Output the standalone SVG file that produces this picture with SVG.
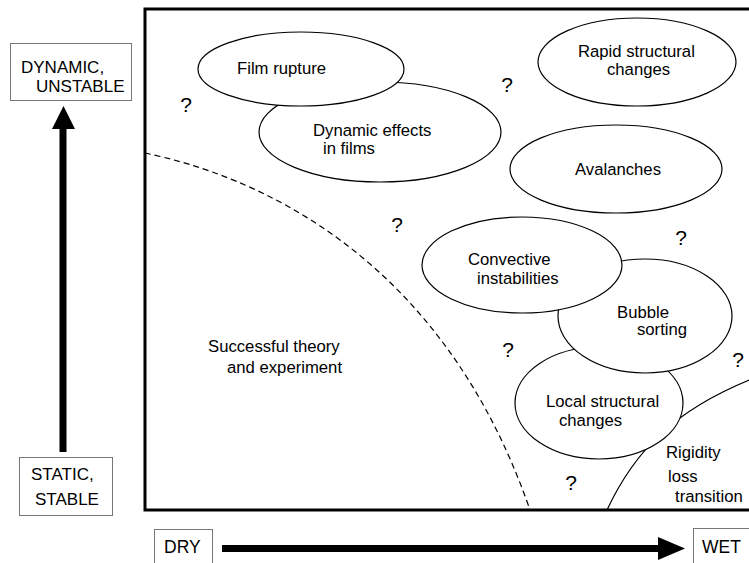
<svg xmlns="http://www.w3.org/2000/svg" width="749" height="563" viewBox="0 0 749 563">
<style>
text{font-family:"Liberation Sans",Arial,sans-serif;font-size:16.7px;fill:#000}
.q{font-size:21px}
.ax{font-size:17px}
.bx{fill:#fff;stroke:#777;stroke-width:1}
.el{fill:#fff;stroke:#000;stroke-width:1.2}
.frame{fill:none;stroke:#000;stroke-width:3}
.dash{fill:none;stroke:#000;stroke-width:1.2;stroke-dasharray:6 4}
.line{fill:none;stroke:#000;stroke-width:1.2}
</style>
<rect width="749" height="563" fill="#fff"/>
<rect class="frame" x="145" y="9" width="620" height="501"/>
<g id="boundaries">
<path class="dash" d="M145,153 C250,175 440,250 530,510"/>
<path class="line" d="M607,510 C635,450 675,410 752,379"/>
</g>
<g id="connectors">
<rect x="59.5" y="127" width="7" height="325" fill="#000"/>
<polygon points="52,129 75,129 63.5,106" fill="#000"/>
<rect x="222" y="545" width="438" height="7" fill="#000"/>
<polygon points="658,537 658,560 685,548.5" fill="#000"/>
</g>
<g id="dynamic-effects">
<ellipse class="el" cx="380" cy="132" rx="121" ry="50"/>
<text x="313" y="136">Dynamic effects</text>
<text x="323" y="154">in films</text>
</g>
<g id="film-rupture">
<ellipse class="el" cx="301" cy="69" rx="103" ry="37"/>
<text x="237" y="74">Film rupture</text>
</g>
<g id="rapid-structural">
<ellipse class="el" cx="637" cy="62" rx="99" ry="44"/>
<text x="578" y="57">Rapid structural</text>
<text x="607" y="75">changes</text>
</g>
<g id="avalanches">
<ellipse class="el" cx="616" cy="169" rx="106" ry="44"/>
<text x="618" y="175" text-anchor="middle">Avalanches</text>
</g>
<g id="local-structural">
<ellipse class="el" cx="599" cy="403" rx="84" ry="56"/>
<text x="546" y="407">Local structural</text>
<text x="559" y="426">changes</text>
</g>
<g id="bubble-sorting">
<ellipse class="el" cx="645" cy="316" rx="87" ry="57"/>
<text x="617" y="318">Bubble</text>
<text x="637" y="335">sorting</text>
</g>
<g id="convective">
<ellipse class="el" cx="522" cy="265" rx="100" ry="48"/>
<text x="468" y="265">Convective</text>
<text x="477" y="284">instabilities</text>
</g>
<g id="successful">
<text x="208" y="352">Successful theory</text>
<text x="227" y="373">and experiment</text>
</g>
<g id="rigidity">
<text x="666" y="458">Rigidity</text>
<text x="668" y="482">loss</text>
<text x="675" y="502">transition</text>
</g>
<g id="questions">
<text class="q" x="186" y="112" text-anchor="middle">?</text>
<text class="q" x="507" y="92" text-anchor="middle">?</text>
<text class="q" x="397" y="232" text-anchor="middle">?</text>
<text class="q" x="681" y="245" text-anchor="middle">?</text>
<text class="q" x="508" y="357" text-anchor="middle">?</text>
<text class="q" x="738" y="367" text-anchor="middle">?</text>
<text class="q" x="571" y="490" text-anchor="middle">?</text>
</g>
<g id="dynamic-box">
<rect class="bx" x="10.5" y="43.5" width="121" height="57"/>
<text class="ax" x="21" y="73">DYNAMIC,</text>
<text class="ax" x="36" y="92">UNSTABLE</text>
</g>
<g id="static-box">
<rect class="bx" x="19.5" y="457.5" width="93" height="58"/>
<text class="ax" x="31" y="480">STATIC,</text>
<text class="ax" x="35" y="505">STABLE</text>
</g>
<g id="dry-box">
<rect class="bx" x="154.5" y="529.5" width="58" height="40"/>
<text x="164" y="553" style="font-size:17.5px">DRY</text>
</g>
<g id="wet-box">
<rect class="bx" x="693.5" y="528.5" width="62" height="40"/>
<text x="702" y="553" style="font-size:17.5px">WET</text>
</g>
</svg>
